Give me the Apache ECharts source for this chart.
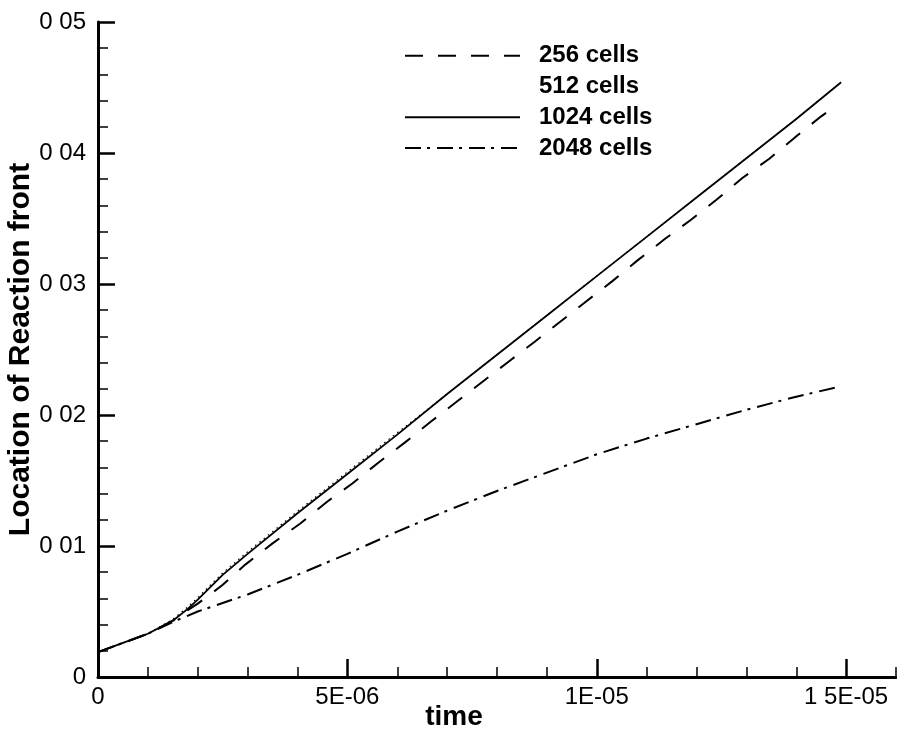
<!DOCTYPE html>
<html>
<head>
<meta charset="utf-8">
<script src="https://cdn.jsdelivr.net/npm/echarts@6/dist/echarts.min.js"></script>
<style>
  html, body { margin: 0; padding: 0; background: #fff; }
  #chart { width: 897px; height: 737px; }
</style>
</head>
<body>
<div id="chart"></div>
<script>
// Reaction-front location vs time for four grid resolutions
const seriesNames = ['256 cells', '512 cells', '1024 cells', '2048 cells'];

const time256 = [0, 0.5e-6, 1.0e-6, 1.5e-6, 1.8e-6, 2.0e-6, 2.49e-6, 2.96e-6, 3.5e-6, 4.05e-6, 4.6e-6, 5.1e-6, 5.62e-6, 6.15e-6, 6.67e-6, 7.19e-6, 7.71e-6, 8.23e-6, 8.75e-6, 9.28e-6, 9.78e-6, 10.32e-6, 10.83e-6, 11.37e-6, 11.89e-6, 12.4e-6, 12.92e-6, 13.46e-6, 13.98e-6, 14.5e-6, 14.65e-6];
const loc256  = [0.0019, 0.0026, 0.0033, 0.0043, 0.0051, 0.0056, 0.0070, 0.0086, 0.0102, 0.0117, 0.0134, 0.01477, 0.01636, 0.01789, 0.01948, 0.02101, 0.02254, 0.02407, 0.02557, 0.02716, 0.02865, 0.03024, 0.03184, 0.03345, 0.0349, 0.03643, 0.03809, 0.03956, 0.04121, 0.0428, 0.0432];

const time512 = [0, 0.5e-6, 1.0e-6, 1.5e-6, 1.8e-6, 2.0e-6, 2.5e-6, 3.0e-6, 4.0e-6, 5.0e-6, 6.0e-6, 6.6e-6, 7e-6, 8e-6, 9e-6, 10e-6, 11e-6, 12e-6, 13e-6, 14e-6, 14.9e-6];
const loc512  = [0.0019, 0.0026, 0.0033, 0.0044, 0.00535, 0.00605, 0.00795, 0.00955, 0.01265, 0.01565, 0.01865, 0.0204, 0.0216, 0.0246, 0.0276, 0.0306, 0.0336, 0.0366, 0.0396, 0.0426, 0.0454];

const time1024 = [0, 0.5e-6, 1.0e-6, 1.5e-6, 1.8e-6, 2.0e-6, 2.5e-6, 3.0e-6, 4.0e-6, 5.0e-6, 6e-6, 7e-6, 8e-6, 9e-6, 10e-6, 11e-6, 12e-6, 13e-6, 14e-6, 14.9e-6];
const loc1024  = [0.0019, 0.0026, 0.0033, 0.0043, 0.0052, 0.0059, 0.0078, 0.0094, 0.0125, 0.0155, 0.0185, 0.0216, 0.0246, 0.0276, 0.0306, 0.0336, 0.0366, 0.0396, 0.0426, 0.0454];

const time2048 = [0, 0.5e-6, 1.0e-6, 1.5e-6, 2.0e-6, 3.0e-6, 4.0e-6, 5.0e-6, 6.0e-6, 7.0e-6, 8.0e-6, 9.0e-6, 10e-6, 11e-6, 12e-6, 13e-6, 14e-6, 14.8e-6];
const loc2048  = [0.0019, 0.0026, 0.0033, 0.0042, 0.0050, 0.0063, 0.0078, 0.0094, 0.0111, 0.0127, 0.0142, 0.0156, 0.0170, 0.0182, 0.0193, 0.0204, 0.0214, 0.0221];

// Axis ticks and their printed labels
const xMajorTicks = [0, 5e-6, 1e-5, 1.5e-5];
const xTickLabels = ['0', '5E-06', '1E-05', '1 5E-05'];
const yMajorTicks = [0, 0.01, 0.02, 0.03, 0.04, 0.05];
const yTickLabels = ['0', '0 01', '0 02', '0 03', '0 04', '0 05'];

const xMinorTicks = [];
for (let i = 1; i <= 16; i++) if (i % 5 !== 0) xMinorTicks.push(i * 1e-6);
const yMinorTicks = [];
for (let i = 1; i < 25; i++) if (i % 5 !== 0) yMinorTicks.push(i * 0.002);

function pairs(xs, ys) { return xs.map((x, i) => [x, ys[i]]); }
function labelFor(v, ticks, labels) {
  for (let i = 0; i < ticks.length; i++) {
    if (Math.abs(v - ticks[i]) < 1e-12) return labels[i];
  }
  return '';
}

const FONT = '"Liberation Sans", Arial, Helvetica, sans-serif';
const X_MAX = 1.6e-5, Y_MAX = 0.05;

const chart = echarts.init(document.getElementById('chart'), null, { renderer: 'canvas' });

const baseX = { type: 'value', min: 0, max: X_MAX, splitLine: { show: false } };
const baseY = { type: 'value', min: 0, max: Y_MAX, splitLine: { show: false } };

chart.setOption({
  backgroundColor: '#fff',
  animation: false,
  grid: { left: 98, right: 1, top: 22, bottom: 60, containLabel: false, outerBoundsMode: 'none' },
  legend: {
    orient: 'vertical',
    left: 404,
    top: 40.5,
    padding: 0,
    itemWidth: 115,
    itemHeight: 14,
    itemGap: 0,
    itemStyle: { opacity: 0 },
    textStyle: { fontFamily: FONT, fontSize: 24, fontWeight: 'bold', color: '#000', lineHeight: 30.7, padding: [0, 0, 0, 14] },
    data: [
      { name: '256 cells' },
      { name: '512 cells', lineStyle: { opacity: 0 } },
      { name: '1024 cells' },
      { name: '2048 cells' }
    ]
  },
  xAxis: [
    Object.assign({}, baseX, {
      position: 'bottom',
      name: 'time',
      nameLocation: 'middle',
      nameGap: 26,
      nameMoveOverlap: false,
      nameTextStyle: { fontFamily: FONT, fontSize: 28, fontWeight: 'bold', color: '#000', padding: [0, 86, 0, 0] },
      axisLine: { show: true, lineStyle: { color: '#000', width: 3 } },
      axisTick: { show: true, inside: true, length: 10, lineStyle: { color: '#000', width: 1.5 }, customValues: xMinorTicks },
      axisLabel: {
        show: true, margin: 8, fontFamily: FONT, fontSize: 24, color: '#000',
        customValues: xMajorTicks,
        formatter: v => labelFor(v, xMajorTicks, xTickLabels)
      }
    }),
    Object.assign({}, baseX, {
      position: 'bottom',
      axisLine: { show: false },
      axisTick: { show: true, inside: true, length: 18, lineStyle: { color: '#000', width: 2.5 }, customValues: xMajorTicks },
      axisLabel: { show: false }
    })
  ],
  yAxis: [
    Object.assign({}, baseY, {
      position: 'left',
      name: 'Location of Reaction front',
      nameLocation: 'middle',
      nameGap: 62,
      nameMoveOverlap: false,
      nameTextStyle: { fontFamily: FONT, fontSize: 30, fontWeight: 'bold', color: '#000' },
      axisLine: { show: true, lineStyle: { color: '#000', width: 3 } },
      axisTick: { show: true, inside: true, length: 10, lineStyle: { color: '#000', width: 1.5 }, customValues: yMinorTicks },
      axisLabel: {
        show: true, margin: 12, fontFamily: FONT, fontSize: 24, color: '#000',
        customValues: yMajorTicks,
        formatter: v => labelFor(v, yMajorTicks, yTickLabels)
      }
    }),
    Object.assign({}, baseY, {
      position: 'left',
      axisLine: { show: false },
      axisTick: { show: true, inside: true, length: 17, lineStyle: { color: '#000', width: 2.5 }, customValues: yMajorTicks },
      axisLabel: { show: false }
    })
  ],
  series: [
    {
      name: seriesNames[0], type: 'line', symbol: 'none', z: 3,
      data: pairs(time256, loc256),
      lineStyle: { color: '#000', width: 2, type: [18, 15] }
    },
    {
      name: seriesNames[1], type: 'line', symbol: 'none', z: 2,
      data: pairs(time512, loc512),
      lineStyle: { color: '#000', width: 1.2, type: [1.5, 4] }
    },
    {
      name: seriesNames[2], type: 'line', symbol: 'none', z: 4,
      data: pairs(time1024, loc1024),
      lineStyle: { color: '#000', width: 1.8, type: 'solid' }
    },
    {
      name: seriesNames[3], type: 'line', symbol: 'none', z: 3,
      data: pairs(time2048, loc2048),
      lineStyle: { color: '#000', width: 2, type: [16, 6, 3, 7] }
    }
  ]
});
</script>
</body>
</html>
